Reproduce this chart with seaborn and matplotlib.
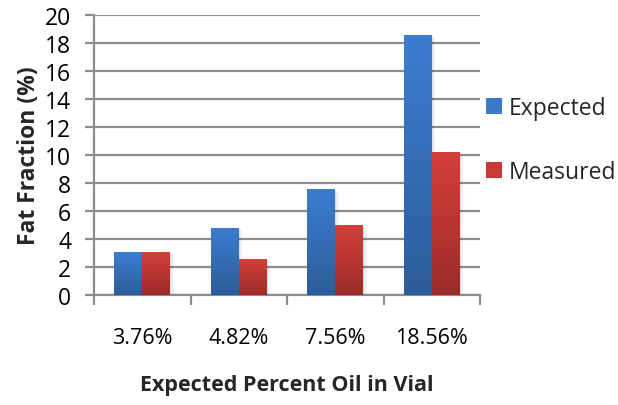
import numpy as np
import pandas as pd
import matplotlib
matplotlib.use("Agg")
import matplotlib.pyplot as plt
from matplotlib.colors import LinearSegmentedColormap
from matplotlib.patches import Rectangle
import seaborn as sns

categories = ["3.76%", "4.82%", "7.56%", "18.56%"]
expected = [3.05, 4.80, 7.57, 18.57]
measured = [3.05, 2.57, 5.00, 10.20]
series = ["Expected", "Measured"]
y_ticks = [0, 2, 4, 6, 8, 10, 12, 14, 16, 18, 20]

df = pd.DataFrame({
    "cat": categories * 2,
    "val": expected + measured,
    "series": ["Expected"] * 4 + ["Measured"] * 4,
})

sns.set_theme(style="white")
plt.rcParams["font.family"] = ["Open Sans", "DejaVu Sans"]

fig = plt.figure(figsize=(6.18, 4.06), dpi=100)
ax = fig.add_axes([94 / 618, 1 - 296 / 406, (480 - 94) / 618, (296 - 16) / 406])

palette = {"Expected": "#3A78C8", "Measured": "#C93A36"}
sns.barplot(data=df, x="cat", y="val", hue="series", palette=palette,
            width=0.58, ax=ax, legend=False, saturation=1, linewidth=0)

grads = {
    "Expected": LinearSegmentedColormap.from_list("b", ["#2D5C9A", "#3C7DD0"]),
    "Measured": LinearSegmentedColormap.from_list("r", ["#9C2B29", "#D43F3A"]),
}
grad = np.linspace(0, 1, 256).reshape(-1, 1)
for i, p in enumerate(list(ax.patches)):
    s = series[i // 4]
    x0, y0 = p.get_x(), p.get_y()
    w, h = p.get_width(), p.get_height()
    for k, a in enumerate([0.05, 0.04, 0.03]):
        sh = Rectangle((x0 + 0.01 * (k + 1), y0 - 0.06 * (k + 1)), w + 0.004 * k, h,
                       facecolor="black", alpha=a, edgecolor="none", zorder=1.5)
        ax.add_patch(sh)
    im = ax.imshow(grad, cmap=grads[s], origin="lower", aspect="auto",
                   extent=[x0, x0 + w, y0, y0 + h], zorder=3)
    im.set_clip_path(p)
    p.set_zorder(2.5)

ax.set_xlim(-0.5, 3.5)
ax.set_ylim(0, 20)
ax.set_yticks(y_ticks)
ax.set_yticklabels([str(t) for t in y_ticks], fontsize=16.5)
ax.yaxis.grid(True, color="#8C8C8C", linewidth=1.6)
ax.set_axisbelow(True)

ax.set_xticks([-0.5, 0.5, 1.5, 2.5, 3.5])
ax.set_xticklabels([])
ax.set_xticks(range(4), minor=True)
ax.set_xticklabels(categories, minor=True, fontsize=15.5)
ax.tick_params(axis="x", which="major", length=7, width=1.6, color="#8C8C8C", direction="out", bottom=True)
ax.tick_params(axis="x", which="minor", length=0, pad=23, colors="black")
ax.tick_params(axis="y", which="major", length=6.5, width=1.6, color="#8C8C8C", direction="out", left=True, pad=10)
for lbl in ax.get_yticklabels():
    lbl.set_color("black")

for s in ["top", "right"]:
    ax.spines[s].set_visible(False)
for s in ["left", "bottom"]:
    ax.spines[s].set_color("#8C8C8C")
    ax.spines[s].set_linewidth(1.6)

ax.set_xlabel("Expected Percent Oil in Vial", fontsize=15.5, fontweight="bold", labelpad=19)
ax.set_ylabel("Fat Fraction (%)", fontsize=16.5, fontweight="bold", labelpad=3)

handles = [Rectangle((0, 0), 1, 1, facecolor=palette[s], edgecolor="none") for s in series]
fig.legend(handles, series, loc="center left", bbox_to_anchor=(486 / 618, 1 - 141 / 406),
           frameon=False, fontsize=16.5, handlelength=0.7, handleheight=0.7,
           handletextpad=0.3, labelspacing=1.75, borderpad=0, borderaxespad=0)

fig.savefig("out.png", dpi=100)
